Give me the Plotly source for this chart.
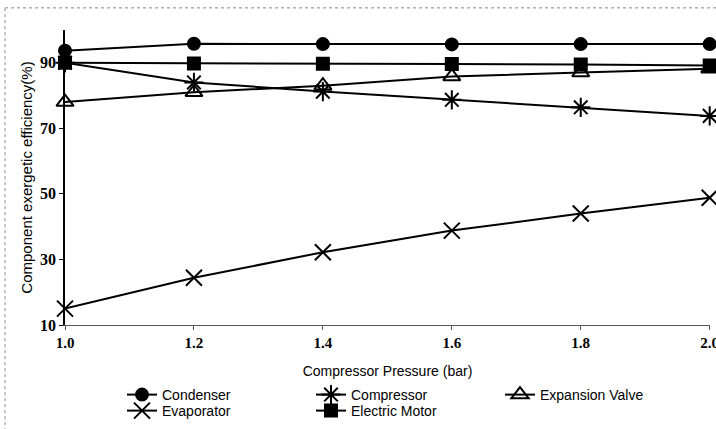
import plotly.graph_objects as go

pressure = [1.0, 1.2, 1.4, 1.6, 1.8, 2.0]
condenser = [93.7, 95.8, 95.7, 95.6, 95.7, 95.7]
compressor = [90.0, 84.0, 81.2, 78.7, 76.4, 73.8]
expansion_valve = [78.0, 81.0, 83.0, 85.8, 87.0, 88.2]
evaporator = [15.0, 24.4, 32.2, 38.8, 44.0, 48.8]
electric_motor = [90.0, 89.8, 89.7, 89.6, 89.5, 89.2]

x_ticks = [1.0, 1.2, 1.4, 1.6, 1.8, 2.0]
x_tick_labels = ["1.0", "1.2", "1.4", "1.6", "1.8", "2.0"]
y_ticks = [10, 30, 50, 70, 90]

series = [
    ("Condenser", condenser, "circle", 12, "legend"),
    ("Compressor", compressor, "asterisk-open", 16, "legend"),
    ("Expansion Valve", expansion_valve, "triangle-up-open", 15, "legend"),
    ("Evaporator", evaporator, "x-thin-open", 16, "legend2"),
    ("Electric Motor", electric_motor, "square", 12, "legend2"),
]

fig = go.Figure()
for name, vals, sym, size, leg in series:
    fig.add_trace(go.Scatter(
        x=pressure, y=vals, name=name, mode="lines+markers",
        line=dict(color="black", width=2),
        marker=dict(symbol=sym, size=size, color="black",
                    line=dict(color="black", width=2)),
        legend=leg, cliponaxis=False,
    ))

legend_common = dict(orientation="h", xanchor="left", yanchor="middle",
                     xref="container", yref="container",
                     font=dict(family="Liberation Sans, Arial", size=14, color="black"),
                     bgcolor="rgba(0,0,0,0)", entrywidth=144, entrywidthmode="pixels",
                     itemwidth=30, tracegroupgap=0)

fig.update_layout(
    width=716, height=429,
    paper_bgcolor="white", plot_bgcolor="white",
    margin=dict(l=65, r=6, t=30, b=104, autoexpand=False),
    showlegend=True,
    legend=dict(x=122 / 716, y=1 - 395 / 429, **legend_common),
    legend2=dict(x=122 / 716, y=1 - 411 / 429, **legend_common),
    xaxis=dict(
        range=[1.0, 2.0005], tickvals=x_ticks, ticktext=x_tick_labels,
        showgrid=False, zeroline=False, ticklabeloverflow="allow",
        showline=True, linecolor="#555", linewidth=1,
        ticks="outside", ticklen=4, tickcolor="#555",
        tickfont=dict(family="Liberation Serif, Times New Roman", size=15, color="black", weight="bold"),
        title=dict(text="Compressor Pressure (bar)", standoff=16,
                   font=dict(family="Liberation Sans, Arial", size=14, color="black")),
    ),
    yaxis=dict(
        range=[10, 100], tickvals=y_ticks,
        showgrid=False, zeroline=False,
        showline=True, linecolor="black", linewidth=1.5,
        ticks="outside", ticklen=4, tickcolor="black",
        tickfont=dict(family="Liberation Serif, Times New Roman", size=16, color="black", weight="bold"),
        title=dict(text="Component exergetic efficiency(%)", standoff=4,
                   font=dict(family="Liberation Sans, Arial", size=15, color="black")),
    ),
)

fig.add_shape(type="line", xref="paper", yref="paper", x0=-0.093, x1=1.01, y0=1.075, y1=1.075,
              line=dict(color="#888", width=1, dash="dot"))
fig.add_shape(type="line", xref="paper", yref="paper", x0=-0.093, x1=-0.093, y0=-0.36, y1=1.075,
              line=dict(color="#888", width=1, dash="dot"))

fig.write_html("out.html", config={"displayModeBar": False},
               post_script="document.body.style.margin='0';")
